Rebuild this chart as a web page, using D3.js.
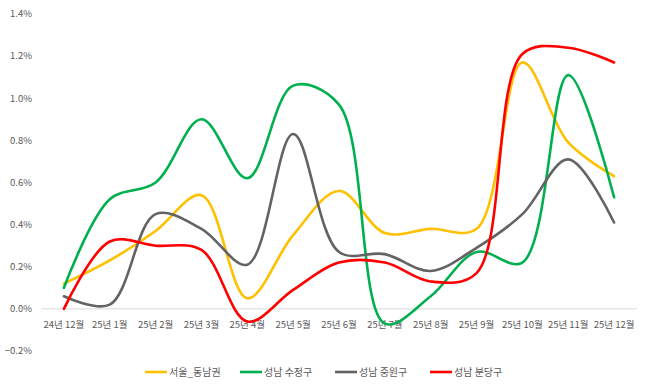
<!DOCTYPE html>
<html>
<head>
  <meta charset="utf-8">
  <title>서울_동남권 / 성남</title>
  <style>
    body { margin: 0; background: #fff; }
    #chart { width: 650px; height: 390px; }
    text { font-family: "Noto Sans CJK KR", "Noto Sans", sans-serif; fill: #595959; }
  </style>
</head>
<body>
  <div id="chart"></div>

  <script src="https://d3js.org/d3.v7.min.js"></script>
  <script>
    // 월 구분
    const months = ["24년 12월", "25년 1월", "25년 2월", "25년 3월", "25년 4월", "25년 5월", "25년 6월",
      "25년 7월", "25년 8월", "25년 9월", "25년 10월", "25년 11월", "25년 12월"];

    // 계열별 값 (%)
    const seoulSE = [0.12, 0.23, 0.37, 0.54, 0.05, 0.35, 0.56, 0.36, 0.38, 0.38, 1.17, 0.79, 0.63];
    const sujeong = [0.10, 0.52, 0.60, 0.90, 0.62, 1.06, 0.97, -0.07, 0.06, 0.27, 0.22, 1.11, 0.53];
    const jungwon = [0.06, 0.02, 0.45, 0.38, 0.21, 0.83, 0.27, 0.26, 0.18, 0.29, 0.45, 0.71, 0.41];
    const bundang = [0.00, 0.32, 0.30, 0.28, -0.06, 0.09, 0.22, 0.22, 0.13, 0.17, 1.21, 1.24, 1.17];

    const yTicks = [-0.2, 0, 0.2, 0.4, 0.6, 0.8, 1.0, 1.2, 1.4];

    const seriesNames = ["서울_동남권", "성남 수정구", "성남 중원구", "성남 분당구"];
    const seriesColors = ["#FFC000", "#00B050", "#636363", "#FF0000"];
    const seriesValues = [seoulSE, sujeong, jungwon, bundang];

    const width = 650;
    const height = 390;

    const svg = d3.select("#chart")
      .append("svg")
      .attr("width", width)
      .attr("height", height);

    const x = d3.scaleBand()
      .domain(months)
      .range([41, 637]);

    const y = d3.scaleLinear()
      .domain([-0.2, 1.4])
      .range([351, 14]);

    // y축 라벨
    svg.append("g")
      .selectAll("text")
      .data(yTicks)
      .enter()
      .append("text")
      .attr("x", 32)
      .attr("y", d => y(d))
      .attr("dy", "0.35em")
      .attr("text-anchor", "end")
      .attr("font-size", "9.5px")
      .text(d => d3.format(".1f")(d) + "%");

    // 0% 기준선
    svg.append("line")
      .attr("x1", 41)
      .attr("x2", 637)
      .attr("y1", y(0))
      .attr("y2", y(0))
      .attr("stroke", "#d9d9d9")
      .attr("stroke-width", 1);

    // x축 라벨
    svg.append("g")
      .selectAll("text")
      .data(months)
      .enter()
      .append("text")
      .attr("x", d => x(d) + x.bandwidth() / 2)
      .attr("y", 325)
      .attr("dy", "0.35em")
      .attr("text-anchor", "middle")
      .attr("font-size", "9.5px")
      .text(d => d);

    // 선 그리기 (Excel 부드러운 선 비슷하게)
    const line = d3.line()
      .x((d, i) => x(months[i]) + x.bandwidth() / 2)
      .y(d => y(d))
      .curve(d3.curveCatmullRom.alpha(0.5));

    seriesValues.forEach((vals, i) => {
      svg.append("path")
        .datum(vals)
        .attr("d", line)
        .attr("fill", "none")
        .attr("stroke", seriesColors[i])
        .attr("stroke-width", 2.6)
        .attr("stroke-linejoin", "round")
        .attr("stroke-linecap", "round");
    });

    // 범례
    const legendX = [145, 240, 335, 430];
    const legend = svg.append("g");
    seriesNames.forEach((name, i) => {
      legend.append("line")
        .attr("x1", legendX[i])
        .attr("x2", legendX[i] + 22)
        .attr("y1", 372)
        .attr("y2", 372)
        .attr("stroke", seriesColors[i])
        .attr("stroke-width", 2.6);
      legend.append("text")
        .attr("x", legendX[i] + 24)
        .attr("y", 372)
        .attr("dy", "0.35em")
        .attr("font-size", "10px")
        .text(name);
    });
  </script>
</body>
</html>
